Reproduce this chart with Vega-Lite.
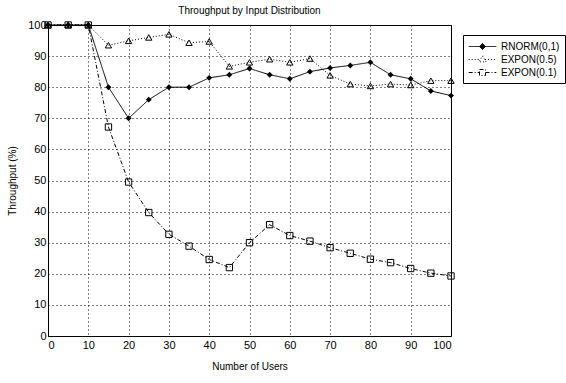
{
  "$schema": "https://vega.github.io/schema/vega-lite/v6.json",
  "autosize": {"type": "none"},
  "width": 403,
  "height": 311,
  "padding": {"left": 48, "top": 25, "right": 115, "bottom": 47},
  "background": "white",
  "title": {"text": "Throughput by Input Distribution", "fontSize": 10, "fontWeight": "normal", "font": "Liberation Sans", "color": "black", "offset": 3},
  "config": {
    "view": {"stroke": "black", "strokeWidth": 1},
    "axis": {
      "labelFont": "Liberation Sans", "labelFontSize": 11, "labelColor": "black",
      "titleFont": "Liberation Sans", "titleFontSize": 10, "titleFontWeight": "normal", "titleColor": "black",
      "gridColor": "black", "gridDash": [1, 3], "gridOpacity": 1, "gridWidth": 1,
      "domainColor": "black", "ticks": false
    },
    "legend": {
      "strokeColor": "black", "fillColor": "white", "padding": 5,
      "symbolSize": 144, "symbolOffset": 8, "labelOffset": 12, "rowPadding": 1,
      "labelFont": "Liberation Sans", "labelFontSize": 10, "labelColor": "black",
      "symbolStrokeColor": "black", "symbolStrokeWidth": 1, "symbolOpacity": 1
    }
  },
  "data": {"values": [
    {"x": 0, "y": 100, "series": "RNORM(0,1)"},
    {"x": 5, "y": 100, "series": "RNORM(0,1)"},
    {"x": 10, "y": 100, "series": "RNORM(0,1)"},
    {"x": 15, "y": 80, "series": "RNORM(0,1)"},
    {"x": 20, "y": 70, "series": "RNORM(0,1)"},
    {"x": 25, "y": 76, "series": "RNORM(0,1)"},
    {"x": 30, "y": 80, "series": "RNORM(0,1)"},
    {"x": 35, "y": 80, "series": "RNORM(0,1)"},
    {"x": 40, "y": 83, "series": "RNORM(0,1)"},
    {"x": 45, "y": 84, "series": "RNORM(0,1)"},
    {"x": 50, "y": 86, "series": "RNORM(0,1)"},
    {"x": 55, "y": 84, "series": "RNORM(0,1)"},
    {"x": 60, "y": 82.7, "series": "RNORM(0,1)"},
    {"x": 65, "y": 85, "series": "RNORM(0,1)"},
    {"x": 70, "y": 86.2, "series": "RNORM(0,1)"},
    {"x": 75, "y": 87, "series": "RNORM(0,1)"},
    {"x": 80, "y": 88, "series": "RNORM(0,1)"},
    {"x": 85, "y": 84, "series": "RNORM(0,1)"},
    {"x": 90, "y": 82.7, "series": "RNORM(0,1)"},
    {"x": 95, "y": 78.8, "series": "RNORM(0,1)"},
    {"x": 100, "y": 77.3, "series": "RNORM(0,1)"},
    {"x": 0, "y": 100, "series": "EXPON(0.5)"},
    {"x": 5, "y": 100, "series": "EXPON(0.5)"},
    {"x": 10, "y": 100, "series": "EXPON(0.5)"},
    {"x": 15, "y": 93.5, "series": "EXPON(0.5)"},
    {"x": 20, "y": 94.9, "series": "EXPON(0.5)"},
    {"x": 25, "y": 96, "series": "EXPON(0.5)"},
    {"x": 30, "y": 97, "series": "EXPON(0.5)"},
    {"x": 35, "y": 94.3, "series": "EXPON(0.5)"},
    {"x": 40, "y": 94.7, "series": "EXPON(0.5)"},
    {"x": 45, "y": 86.7, "series": "EXPON(0.5)"},
    {"x": 50, "y": 88, "series": "EXPON(0.5)"},
    {"x": 55, "y": 89, "series": "EXPON(0.5)"},
    {"x": 60, "y": 88, "series": "EXPON(0.5)"},
    {"x": 65, "y": 89.2, "series": "EXPON(0.5)"},
    {"x": 70, "y": 83.8, "series": "EXPON(0.5)"},
    {"x": 75, "y": 81, "series": "EXPON(0.5)"},
    {"x": 80, "y": 80.4, "series": "EXPON(0.5)"},
    {"x": 85, "y": 81, "series": "EXPON(0.5)"},
    {"x": 90, "y": 80.7, "series": "EXPON(0.5)"},
    {"x": 95, "y": 82.1, "series": "EXPON(0.5)"},
    {"x": 100, "y": 82.1, "series": "EXPON(0.5)"},
    {"x": 0, "y": 100, "series": "EXPON(0.1)"},
    {"x": 5, "y": 100, "series": "EXPON(0.1)"},
    {"x": 10, "y": 100, "series": "EXPON(0.1)"},
    {"x": 15, "y": 67.2, "series": "EXPON(0.1)"},
    {"x": 20, "y": 49.5, "series": "EXPON(0.1)"},
    {"x": 25, "y": 39.7, "series": "EXPON(0.1)"},
    {"x": 30, "y": 32.7, "series": "EXPON(0.1)"},
    {"x": 35, "y": 28.9, "series": "EXPON(0.1)"},
    {"x": 40, "y": 24.6, "series": "EXPON(0.1)"},
    {"x": 45, "y": 22, "series": "EXPON(0.1)"},
    {"x": 50, "y": 30, "series": "EXPON(0.1)"},
    {"x": 55, "y": 35.8, "series": "EXPON(0.1)"},
    {"x": 60, "y": 32.3, "series": "EXPON(0.1)"},
    {"x": 65, "y": 30.5, "series": "EXPON(0.1)"},
    {"x": 70, "y": 28.4, "series": "EXPON(0.1)"},
    {"x": 75, "y": 26.6, "series": "EXPON(0.1)"},
    {"x": 80, "y": 24.7, "series": "EXPON(0.1)"},
    {"x": 85, "y": 23.6, "series": "EXPON(0.1)"},
    {"x": 90, "y": 21.7, "series": "EXPON(0.1)"},
    {"x": 95, "y": 20.2, "series": "EXPON(0.1)"},
    {"x": 100, "y": 19.3, "series": "EXPON(0.1)"}
  ]},
  "encoding": {
    "x": {"field": "x", "type": "quantitative", "scale": {"domain": [0, 100], "nice": false, "zero": false},
      "axis": {"values": [0, 10, 20, 30, 40, 50, 60, 70, 80, 90, 100], "title": "Number of Users", "labelPadding": 3, "titlePadding": 11}},
    "y": {"field": "y", "type": "quantitative", "scale": {"domain": [0, 100], "nice": false},
      "axis": {"values": [0, 10, 20, 30, 40, 50, 60, 70, 80, 90, 100], "title": "Throughput (%)", "labelPadding": 2, "titlePadding": 10}}
  },
  "layer": [
    {
      "mark": {"type": "line", "color": "black", "strokeWidth": 1},
      "encoding": {
        "strokeDash": {"field": "series", "type": "nominal",
          "scale": {"domain": ["RNORM(0,1)", "EXPON(0.5)", "EXPON(0.1)"], "range": [[1, 0], [1, 2], [4, 2, 1, 2]]},
          "legend": {"title": null, "orient": "none", "legendX": 415, "legendY": 10}}
      }
    },
    {
      "transform": [{"filter": "datum.series === 'RNORM(0,1)'"}],
      "mark": {"type": "point", "shape": "diamond", "filled": true, "color": "black", "size": 35, "opacity": 1}
    },
    {
      "transform": [{"filter": "datum.series === 'EXPON(0.5)'"}],
      "mark": {"type": "point", "shape": "triangle-up", "filled": false, "color": "black", "strokeWidth": 1, "size": 40, "opacity": 1}
    },
    {
      "transform": [{"filter": "datum.series === 'EXPON(0.1)'"}],
      "mark": {"type": "point", "shape": "square", "filled": false, "color": "black", "strokeWidth": 1, "size": 40, "opacity": 1}
    },
    {
      "mark": {"type": "point", "filled": false, "strokeWidth": 1, "size": 0, "opacity": 1},
      "encoding": {
        "shape": {"field": "series", "type": "nominal",
          "scale": {"domain": ["RNORM(0,1)", "EXPON(0.5)", "EXPON(0.1)"],
            "range": ["M-2.3,0H2.3M0,-0.5L0.5,0L0,0.5L-0.5,0Z", "M-2.3,0H-0.4M0.4,0H2.3M0,-0.6L0.6,0.4L-0.6,0.4Z", "M-2.3,0H-0.5M0.5,0H2.3M-0.5,-0.5H0.5V0.5H-0.5Z"]},
          "legend": {"title": null, "orient": "none", "legendX": 415, "legendY": 10}},
        "stroke": {"field": "series", "type": "nominal",
          "scale": {"domain": ["RNORM(0,1)", "EXPON(0.5)", "EXPON(0.1)"], "range": ["black", "black", "black"]},
          "legend": {"title": null, "orient": "none", "legendX": 415, "legendY": 10}},
        "fill": {"field": "series", "type": "nominal",
          "scale": {"domain": ["RNORM(0,1)", "EXPON(0.5)", "EXPON(0.1)"], "range": ["black", "white", "white"]},
          "legend": {"title": null, "orient": "none", "legendX": 415, "legendY": 10}}
      }
    }
  ]
}
